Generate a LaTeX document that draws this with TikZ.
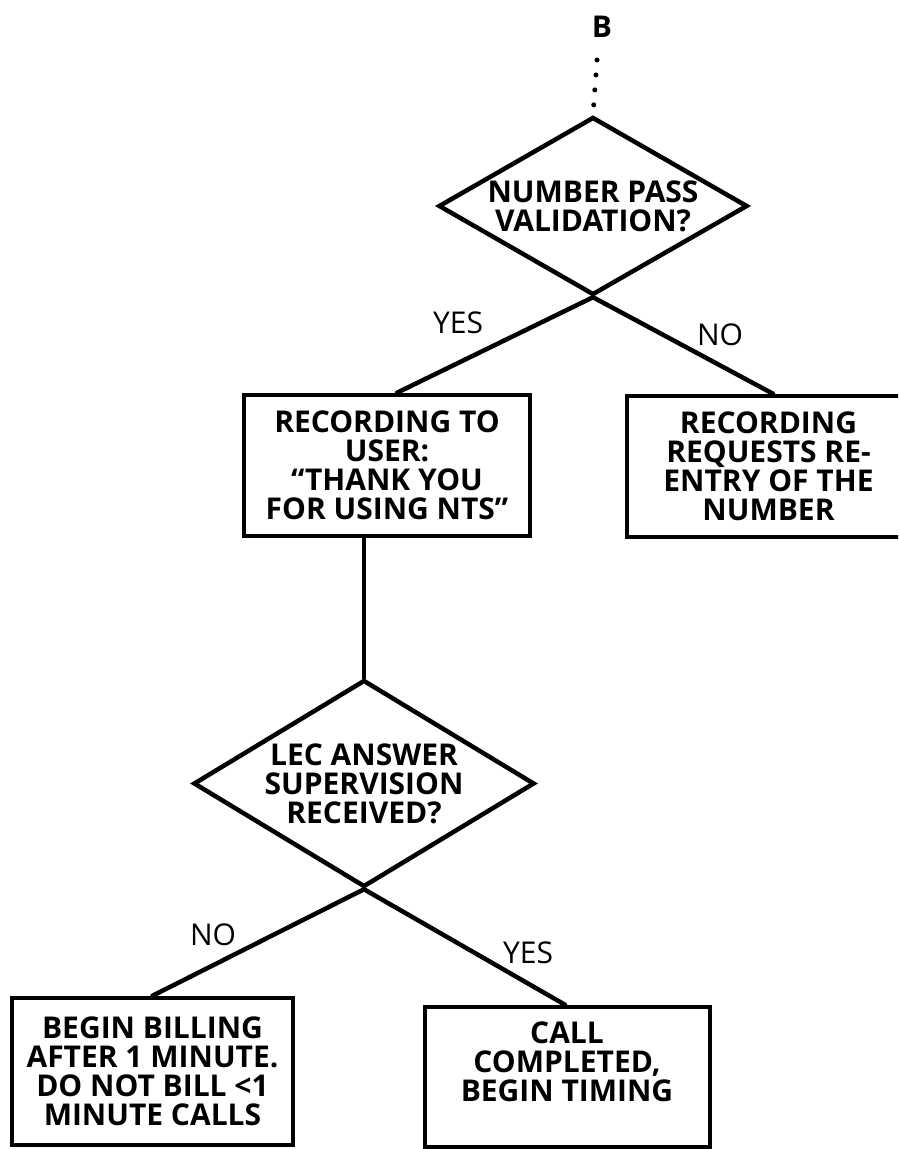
\documentclass[tikz,border=0pt]{standalone}
\usepackage{fontspec}
\setmainfont{Open Sans}
\usetikzlibrary{shapes.geometric}
\newcommand\myboxfont{\bfseries\fontsize{30}{29}\selectfont}
\newcommand\mylblfont{\fontsize{30}{29}\selectfont}
\begin{document}
\begin{tikzpicture}[x=1pt,y=-1pt,
  conn/.style={line width=4.5pt, line cap=round},
  dotline/.style={line width=5pt, line cap=round, dash pattern=on 0pt off 15pt},
  box/.style={draw, line width=4.5pt, rectangle, align=center, font=\myboxfont, inner sep=0pt},
  txt/.style={align=center, font=\myboxfont, inner sep=0pt},
  dec/.style={draw, line width=4.5pt, diamond, inner sep=0pt, align=center, font=\myboxfont},
  lbl/.style={font=\mylblfont, inner sep=0pt}]
\useasboundingbox (0,0) rectangle (898,1149);
\fill[white] (0,0) rectangle (898,1149);
\clip (0,0) rectangle (898,1149);

\node[txt] (B) at (602,27) {B};
\coordinate (dtop) at (597,60);
\node[dec, minimum width=309pt, minimum height=178pt, aspect=1.74] (d1) at (593,206) {NUMBER PASS\\VALIDATION?};
\node[box, minimum width=286pt, minimum height=141pt] (rec) at (387,465.5) {RECORDING TO\\USER:\\“THANK YOU\\FOR USING NTS”};
\node[box, minimum width=283pt, minimum height=141pt] (req) at (768.5,466.5) {RECORDING\\REQUESTS RE-\\ENTRY OF THE\\NUMBER};
\node[dec, minimum width=341pt, minimum height=207pt, aspect=1.65] (d2) at (364,783.5) {LEC ANSWER\\SUPERVISION\\RECEIVED?};
\node[box, minimum width=281pt, minimum height=147pt] (bill) at (152.5,1071.5) {BEGIN BILLING\\AFTER 1 MINUTE.\\DO NOT BILL <1\\MINUTE CALLS};
\node[box, minimum width=285pt, minimum height=140pt] (call) at (567.5,1077) {};
\node[txt] (callt) at (567,1062) {CALL\\COMPLETED,\\BEGIN TIMING};

\node[lbl] (y1) at (458,323) {YES};
\node[lbl] (n1) at (720,335) {NO};
\node[lbl] (n2) at (213,935) {NO};
\node[lbl] (y2) at (528,953) {YES};

\draw[dotline] (dtop) -- (d1.north);
\draw[conn] (d1.south) -- ([xshift=10pt]rec.north);
\draw[conn] (d1.south) -- ([xshift=4.5pt]req.north);
\draw[conn] (d2.north |- rec.south) -- (d2.north);
\draw[conn] (d2.south) -- (bill.north);
\draw[conn] (d2.south) -- ([xshift=-2.5pt]call.north);
\end{tikzpicture}
\end{document}
